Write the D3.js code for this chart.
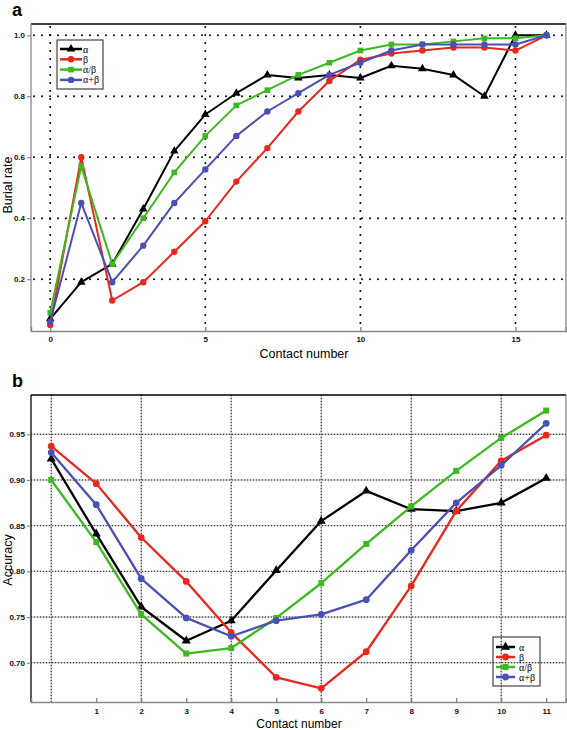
<!DOCTYPE html>
<html><head><meta charset="utf-8">
<script src="https://cdn.jsdelivr.net/npm/d3@7"></script>
<style>body{margin:0;background:#fff}svg{display:block}</style>
</head><body>
<svg id="c" width="567" height="730"></svg>
<script>
const seriesNames = ["α", "β", "α/β", "α+β"];
const seriesColors = ["#000000", "#e8281c", "#3cb820", "#4a4fb4"];
const seriesMarkers = ["triangle", "circle", "square", "circle"];

// Panel a: burial rate vs contact number
const contactA = [0,1,2,3,4,5,6,7,8,9,10,11,12,13,14,15,16];
const burialAlpha = [0.07,0.19,0.25,0.43,0.62,0.74,0.81,0.87,0.86,0.87,0.86,0.90,0.89,0.87,0.80,1.00,1.00];
const burialBeta = [0.05,0.60,0.13,0.19,0.29,0.39,0.52,0.63,0.75,0.85,0.92,0.94,0.95,0.96,0.96,0.95,1.00];
const burialAB = [0.09,0.57,0.25,0.40,0.55,0.67,0.77,0.82,0.87,0.91,0.95,0.97,0.97,0.98,0.99,0.99,1.00];
const burialAplusB = [0.06,0.45,0.19,0.31,0.45,0.56,0.67,0.75,0.81,0.87,0.91,0.95,0.97,0.97,0.97,0.97,1.00];
const xTicksA = [0,5,10,15];
const yTicksA = [0.2,0.4,0.6,0.8,1.0];

// Panel b: accuracy vs contact number
const contactB = [0,1,2,3,4,5,6,7,8,9,10,11];
const accAlpha = [0.923,0.841,0.761,0.724,0.746,0.801,0.855,0.888,0.868,0.866,0.875,0.902];
const accBeta = [0.937,0.896,0.837,0.789,0.733,0.684,0.672,0.712,0.784,0.866,0.921,0.949];
const accAB = [0.900,0.832,0.753,0.710,0.716,0.749,0.787,0.830,0.871,0.910,0.946,0.976];
const accAplusB = [0.930,0.873,0.792,0.749,0.729,0.746,0.753,0.769,0.823,0.875,0.916,0.962];
const xTicksB = [1,2,3,4,5,6,7,8,9,10,11];
const xGridB = [0,2,4,6,8,10];
const yTicksB = [0.70,0.75,0.80,0.85,0.90,0.95];

const svg = d3.select("#c");
const sans = "Liberation Sans, Arial, sans-serif";
const serif = "Liberation Serif, Times New Roman, serif";

function markerPath(type, size) {
  const sym = type === "triangle" ? d3.symbolTriangle : type === "square" ? d3.symbolSquare : d3.symbolCircle;
  return d3.symbol().type(sym).size(size)();
}

function drawPanel(cfg) {
  const g = svg.append("g");
  const x = d3.scaleLinear().domain(cfg.xDomain).range([cfg.left, cfg.right]);
  const y = d3.scaleLinear().domain(cfg.yDomain).range([cfg.bottom, cfg.top]);

  // grid
  if (cfg.gridStyle === "a") {
    const gs = {stroke:"#000", "stroke-width":2, "stroke-dasharray":"0,8", "stroke-linecap":"round"};
    cfg.yGrid.forEach(v => {
      const l = g.append("line").attr("x1", cfg.left+3).attr("x2", cfg.right).attr("y1", y(v)).attr("y2", y(v));
      Object.entries(gs).forEach(([k,val]) => l.attr(k,val));
    });
    cfg.xGrid.forEach(v => {
      const l = g.append("line").attr("x1", x(v)).attr("x2", x(v)).attr("y1", cfg.top+3).attr("y2", cfg.bottom);
      Object.entries(gs).forEach(([k,val]) => l.attr(k,val));
    });
  } else {
    cfg.yGrid.forEach(v => {
      g.append("line").attr("x1", cfg.left).attr("x2", cfg.right).attr("y1", y(v)).attr("y2", y(v))
        .attr("stroke", "#c4c4c4").attr("stroke-width", 1.4);
      g.append("line").attr("x1", cfg.left).attr("x2", cfg.right).attr("y1", y(v)).attr("y2", y(v))
        .attr("stroke", "#222").attr("stroke-width", 1).attr("stroke-dasharray", "1,2");
    });
    cfg.xGrid.forEach(v => {
      g.append("line").attr("x1", x(v)).attr("x2", x(v)).attr("y1", cfg.top).attr("y2", cfg.bottom)
        .attr("stroke", "#c4c4c4").attr("stroke-width", 1.4);
      g.append("line").attr("x1", x(v)).attr("x2", x(v)).attr("y1", cfg.top).attr("y2", cfg.bottom)
        .attr("stroke", "#222").attr("stroke-width", 1).attr("stroke-dasharray", "1,2");
    });
  }

  // frame
  g.append("line").attr("x1", cfg.left).attr("x2", cfg.right).attr("y1", cfg.top).attr("y2", cfg.top)
    .attr("stroke", "#000").attr("stroke-width", 1.3);
  g.append("line").attr("x1", cfg.right).attr("x2", cfg.right).attr("y1", cfg.top).attr("y2", cfg.bottom)
    .attr("stroke", "#888").attr("stroke-width", 1.3);
  g.append("line").attr("x1", cfg.left).attr("x2", cfg.left).attr("y1", cfg.top).attr("y2", cfg.bottom)
    .attr("stroke", cfg.leftColor).attr("stroke-width", 1.3);

  // axes
  const xAxis = d3.axisBottom(x).tickValues(cfg.xTicks).tickSize(-4).tickPadding(cfg.xPad).tickFormat(d3.format("d"));
  const ax = g.append("g").attr("transform", `translate(0,${cfg.bottom})`).call(xAxis);
  ax.select(".domain").attr("stroke", "#888").attr("stroke-width", 1.5);
  ax.selectAll(".tick line").attr("stroke", "#777").attr("stroke-width", 1.2);
  ax.selectAll("text").attr("font-family", sans).attr("font-size", 8).attr("font-weight", "bold").attr("fill", "#111");

  const yAxis = d3.axisLeft(y).tickValues(cfg.yTicks).tickSize(4).tickPadding(2).tickFormat(d3.format(cfg.yFmt));
  const ay = g.append("g").attr("transform", `translate(${cfg.left},0)`).call(yAxis);
  ay.select(".domain").remove();
  ay.selectAll(".tick line").attr("stroke", "#888").attr("stroke-width", 1.2);
  ay.selectAll("text").attr("font-family", sans).attr("font-size", 8).attr("font-weight", "bold").attr("fill", "#111");

  // series
  const line = d3.line().x((d,i) => x(cfg.xs[i])).y(d => y(d));
  cfg.series.forEach((vals, si) => {
    g.append("path").attr("d", line(vals)).attr("fill", "none")
      .attr("stroke", seriesColors[si]).attr("stroke-width", cfg.lw).attr("stroke-linejoin", "round");
    g.selectAll(null).data(vals).enter().append("path")
      .attr("d", markerPath(seriesMarkers[si], cfg.ms))
      .attr("transform", (d,i) => `translate(${x(cfg.xs[i])},${y(d)})`)
      .attr("fill", seriesColors[si]);
  });

  // titles
  g.append("text").attr("x", cfg.xLabelX).attr("y", cfg.xLabelY).attr("text-anchor", "middle")
    .attr("font-family", sans).attr("font-size", cfg.xLabelSize).text("Contact number");
  g.append("text").attr("transform", `translate(${cfg.yLabelX},${cfg.yLabelY}) rotate(-90)`).attr("text-anchor", "middle")
    .attr("font-family", sans).attr("font-size", 12.5).text(cfg.yLabel);
  g.append("text").attr("x", 12).attr("y", cfg.panelY).attr("font-family", sans).attr("font-size", 18)
    .attr("font-weight", "bold").text(cfg.panel);

  // legend
  const L = cfg.legend;
  g.append("rect").attr("x", L.x).attr("y", L.y).attr("width", L.w).attr("height", L.h)
    .attr("fill", L.fill).attr("stroke", "#444").attr("stroke-width", 1.2);
  seriesNames.forEach((nm, si) => {
    const yy = L.y + L.first + si * L.step;
    g.append("line").attr("x1", L.x + 3).attr("x2", L.x + 3 + L.lineLen).attr("y1", yy).attr("y2", yy)
      .attr("stroke", seriesColors[si]).attr("stroke-width", 2.5);
    g.append("path").attr("d", markerPath(seriesMarkers[si], cfg.ms))
      .attr("transform", `translate(${L.x + 3 + L.lineLen/2},${yy})`).attr("fill", seriesColors[si]);
    g.append("text").attr("x", L.x + L.textOff).attr("y", yy + 3.5).attr("font-family", serif)
      .attr("font-size", 10).text(nm);
  });
}

drawPanel({
  panel: "a", panelY: 16,
  left: 31, right: 566, top: 24, bottom: 331,
  xDomain: [-0.62, 16.63], yDomain: [0.03, 1.037],
  xs: contactA, series: [burialAlpha, burialBeta, burialAB, burialAplusB],
  xTicks: xTicksA, yTicks: yTicksA, xGrid: xTicksA, yGrid: yTicksA, yFmt: ".1f", xPad: 5,
  gridStyle: "a", leftColor: "#888", lw: 2, ms: 32,
  xLabelX: 304, xLabelY: 358, xLabelSize: 12.5, yLabel: "Burial rate", yLabelX: 12, yLabelY: 185,
  legend: {x: 57, y: 40, w: 46, h: 49, first: 9, step: 10.3, lineLen: 22, textOff: 26, fill: "#fff"}
});

drawPanel({
  panel: "b", panelY: 387,
  left: 31, right: 566, top: 395, bottom: 702,
  xDomain: [-0.45, 11.44], yDomain: [0.657, 0.993],
  xs: contactB, series: [accAlpha, accBeta, accAB, accAplusB],
  xTicks: xTicksB, yTicks: yTicksB, xGrid: xGridB, yGrid: yTicksB, yFmt: ".2f", xPad: 6,
  gridStyle: "b", leftColor: "#000", lw: 2.3, ms: 36,
  xLabelX: 299, xLabelY: 728, xLabelSize: 12, yLabel: "Accuracy", yLabelX: 12, yLabelY: 560,
  legend: {x: 493, y: 637, w: 47, h: 49, first: 10, step: 10, lineLen: 19, textOff: 26, fill: "none"}
});
</script>
</body></html>
